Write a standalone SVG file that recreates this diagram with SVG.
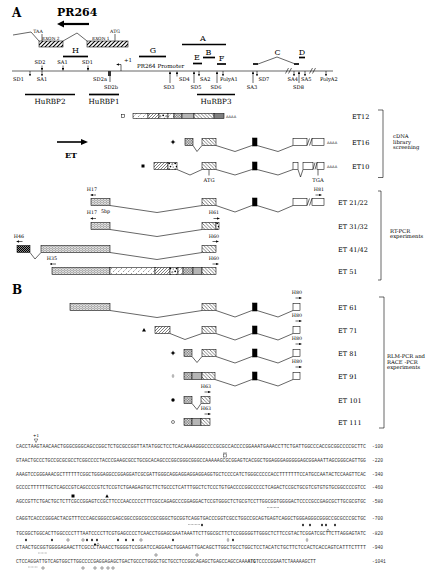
<svg xmlns="http://www.w3.org/2000/svg" width="443" height="573" viewBox="0 0 443 573">
<style>
.t{font-family:"DejaVu Serif","Liberation Serif",serif;fill:#000}
.bd{font-weight:bold}
.lab{font-size:8px}
.site{font-size:5.1px}
.et{font-size:6.5px}
.pr{font-size:4.8px}
.aaaa{font-size:3.6px;font-family:"DejaVu Sans",sans-serif}
.ln{stroke:#000;stroke-width:0.6;fill:none}
.bar{stroke:#000;stroke-width:1.7;fill:none}
.bx{stroke:#000;stroke-width:0.55}
.seq{font-family:"Liberation Mono",monospace;font-size:4.6px;fill:#333}
.mid{text-anchor:middle}
.end{text-anchor:end}
</style>
<defs>
<marker id="ah" viewBox="0 0 4 4" refX="4" refY="2" markerWidth="2.4" markerHeight="2.4" markerUnits="userSpaceOnUse" orient="auto"><path d="M0,0L4,2L0,4z" fill="#000"/></marker>
<pattern id="pFwd" width="3" height="3" patternUnits="userSpaceOnUse"><rect width="3" height="3" fill="#fff"/><path d="M-1,1L1,-1M0,3L3,0M2,4L4,2" stroke="#000" stroke-width="0.5"/></pattern>
<pattern id="pBack" width="3.5" height="3.5" patternUnits="userSpaceOnUse"><rect width="3.5" height="3.5" fill="#fff"/><path d="M0,0L3.5,3.5M-1,2.5L1,4.5M2.5,-1L4.5,1" stroke="#000" stroke-width="0.5"/></pattern>
<pattern id="pDense" width="1.6" height="1.6" patternUnits="userSpaceOnUse"><rect width="1.6" height="1.6" fill="#fff"/><path d="M0,0L1.6,1.6M-0.4,1.2L0.4,2M1.2,-0.4L2,0.4" stroke="#000" stroke-width="0.5"/></pattern>
<pattern id="pWave" width="3" height="2" patternUnits="userSpaceOnUse"><rect width="3" height="2" fill="#fff"/><path d="M0,1.6L0.75,0.4L1.5,1.6L2.25,0.4L3,1.6" stroke="#000" stroke-width="0.35" fill="none"/></pattern>
<pattern id="pDashL" width="5" height="5" patternUnits="userSpaceOnUse"><rect width="5" height="5" fill="#fff"/><path d="M0.5,4.5L2,3M3,2L4.5,0.5" stroke="#000" stroke-width="0.4"/></pattern>
<pattern id="pSpeck" width="6" height="6" patternUnits="userSpaceOnUse"><rect width="6" height="6" fill="#fff"/><circle cx="1.2" cy="1.3" r="0.9" fill="#000"/><circle cx="4.3" cy="2.2" r="0.7" fill="none" stroke="#000" stroke-width="0.4"/><circle cx="2.5" cy="4.6" r="0.8" fill="#000"/><circle cx="5.2" cy="5" r="0.5" fill="#000"/></pattern>
<pattern id="pCross" width="2" height="2" patternUnits="userSpaceOnUse"><rect width="2" height="2" fill="#fff"/><path d="M0,0L2,2M2,0L0,2" stroke="#000" stroke-width="0.5"/></pattern>
<pattern id="pCheck" width="2" height="2" patternUnits="userSpaceOnUse"><rect width="2" height="2" fill="#888"/><rect width="1" height="1" fill="#000"/><rect x="1" y="1" width="1" height="1" fill="#000"/></pattern>
<pattern id="pTop" width="4" height="4" patternUnits="userSpaceOnUse"><rect width="4" height="4" fill="#fff"/><path d="M-1,1L1,-1M0,4L4,0M3,5L5,3" stroke="#000" stroke-width="1.1"/></pattern>
<path id="fd" d="M0,-1.5L1.1,0L0,1.5L-1.1,0z" fill="#000"/>
<path id="od" d="M0,-1.6L1,0L0,1.6L-1,0z" fill="#fff" stroke="#000" stroke-width="0.35"/>
<circle id="oc" r="1.2" fill="#fff" stroke="#000" stroke-width="0.4"/>
<path id="star" d="M0,-2.5L0.8,-0.8L2.5,0L0.8,0.8L0,2.5L-0.8,0.8L-2.5,0L-0.8,-0.8z" fill="#000"/>
</defs>
<rect width="443" height="573" fill="#fff"/>

<g id="panelA-title">
<text class="t bd" x="12" y="17" font-size="12">A</text>
<text class="t bd" x="57" y="16" font-size="11">PR264</text>
<path d="M89,24H63" stroke="#000" stroke-width="2.2"/>
<path d="M57,24L64,20.5L64,27.5z" fill="#000"/>
</g>

<g id="pr264-gene">
<polyline class="ln" points="13,35 31,32 39,41"/>
<rect class="bx" x="39" y="41" width="24" height="6" fill="url(#pTop)"/>
<polyline class="ln" points="63,41 77,33 87,41"/>
<rect class="bx" x="87" y="41" width="41" height="6" fill="url(#pTop)"/>
<text class="t mid" x="38" y="32.5" font-size="4.6">TAA</text>
<line class="ln" x1="42" y1="34" x2="42" y2="41"/>
<text class="t" x="42" y="40" font-size="4.3">EXON 2</text>
<text class="t" x="92" y="40" font-size="4.3">EXON 1</text>
<text class="t mid" x="115" y="32.5" font-size="4.6">ATG</text>
<line class="ln" x1="115" y1="34" x2="115" y2="41"/>
</g>

<g id="genomic-map">
<line class="ln" x1="12" y1="71" x2="333" y2="71"/>
<path d="M285.5,73.5L288.5,68M288.5,73.5L291.5,68M309.5,73.5L312.5,68M312.5,73.5L315.5,68" stroke="#000" stroke-width="0.6"/>
<path class="ln" d="M121,71V64.5H116.5" marker-end="url(#ah)"/>
<text class="t" x="124" y="62" font-size="5.4">+1</text>
<text class="t" x="137" y="68" font-size="5.6">PR264 Promoter</text>
<line class="bar" x1="63" y1="56.5" x2="88" y2="56.5"/><text class="t lab mid" x="75.5" y="53">H</text>
<line class="bar" x1="139" y1="56.5" x2="166" y2="56.5"/><text class="t lab mid" x="153" y="53">G</text>
<line class="bar" x1="182" y1="44.5" x2="226" y2="44.5"/><text class="t lab mid" x="203" y="41">A</text>
<line class="bar" x1="203" y1="57.5" x2="215" y2="57.5"/><text class="t lab mid" x="208.5" y="54.5">B</text>
<line class="bar" x1="193" y1="63.5" x2="202" y2="63.5"/><text class="t lab mid" x="197" y="60">E</text>
<line class="bar" x1="217" y1="64" x2="226" y2="64"/><text class="t lab mid" x="221.5" y="60.5">F</text>
<line class="bar" x1="253" y1="64" x2="258" y2="64"/>
<polyline class="ln" points="258,64 277,57 294,63.5"/>
<line class="bar" x1="294" y1="64" x2="299" y2="64"/><text class="t lab mid" x="277.5" y="55">C</text>
<line class="bar" x1="299" y1="57.5" x2="305" y2="57.5"/><text class="t lab mid" x="302" y="54.5">D</text>
<text class="t site mid" x="40" y="64">SD2</text><line class="ln" x1="42" y1="65.5" x2="42" y2="70.5" marker-end="url(#ah)"/>
<text class="t site mid" x="62.5" y="64">SA1</text><line class="ln" x1="63" y1="65.5" x2="63" y2="70.5" marker-end="url(#ah)"/>
<text class="t site mid" x="87.5" y="64">SD1</text><line class="ln" x1="88" y1="65.5" x2="88" y2="70.5" marker-end="url(#ah)"/>
<line class="ln" x1="30" y1="71" x2="30" y2="76" marker-end="url(#ah)"/><text class="t site mid" x="18.5" y="80.5">SD1</text>
<line class="ln" x1="42" y1="71" x2="42" y2="76" marker-end="url(#ah)"/><text class="t site mid" x="42" y="80.5">SA1</text>
<text class="t site mid" x="100" y="80.5">SD2a</text>
<rect x="108" y="71" width="3" height="5" fill="#333"/>
<line class="ln" x1="110" y1="76" x2="110" y2="82"/>
<text class="t site mid" x="111" y="88.5">SD2b</text>
<line class="ln" x1="170" y1="83" x2="170" y2="71.5" marker-end="url(#ah)"/><text class="t site mid" x="169" y="88.5">SD3</text>
<line class="ln" x1="177" y1="76.5" x2="177" y2="71.5" marker-end="url(#ah)"/><text class="t site" x="179" y="80.5">SD4</text>
<line class="ln" x1="194" y1="83" x2="194" y2="71.5" marker-end="url(#ah)"/><text class="t site mid" x="196" y="88.5">SD5</text>
<line class="ln" x1="199" y1="71" x2="199" y2="76" marker-end="url(#ah)"/><text class="t site" x="200" y="80.5">SA2</text>
<line class="ln" x1="217" y1="83" x2="217" y2="71.5" marker-end="url(#ah)"/><text class="t site mid" x="216" y="88.5">SD6</text>
<line class="ln" x1="223" y1="71" x2="223" y2="76" marker-end="url(#ah)"/><text class="t site" x="220" y="80.5">PolyA1</text>
<line class="ln" x1="253" y1="83" x2="253" y2="71.5" marker-end="url(#ah)"/><text class="t site mid" x="252" y="88.5">SA3</text>
<line class="ln" x1="257" y1="71" x2="257" y2="76" marker-end="url(#ah)"/><text class="t site" x="258.5" y="80.5">SD7</text>
<line class="ln" x1="294" y1="71" x2="294" y2="76" marker-end="url(#ah)"/><text class="t site end" x="298" y="80.5">SA4</text>
<line class="ln" x1="299" y1="83" x2="299" y2="71.5" marker-end="url(#ah)"/><text class="t site mid" x="298.5" y="88.5">SD8</text>
<line class="ln" x1="305" y1="71" x2="305" y2="76" marker-end="url(#ah)"/><text class="t site" x="301" y="80.5">SA5</text>
<line class="ln" x1="326" y1="71" x2="326" y2="76" marker-end="url(#ah)"/><text class="t site" x="320" y="80.5">PolyA2</text>
<line class="bar" x1="25" y1="94.5" x2="75" y2="94.5"/><text class="t mid" x="50" y="104" font-size="7.2">HuRBP2</text>
<line class="bar" x1="89" y1="94.5" x2="119" y2="94.5"/><text class="t mid" x="104" y="104" font-size="7.2">HuRBP1</text>
<line class="bar" x1="197" y1="94.5" x2="235" y2="94.5"/><text class="t mid" x="216" y="104" font-size="7.2">HuRBP3</text>
</g>

<g id="et-arrow">
<path d="M57,142H82" stroke="#000" stroke-width="1.6"/>
<path d="M88,142L81,139L81,145z" fill="#000"/>
<text class="t bd" x="65" y="158" font-size="8">ET</text>
</g>

<g id="connectors">
<polyline class="ln" points="193,145.5 197,151.5 202,145.5"/>
<polyline class="ln" points="216,145.5 235,151.5 252,145.5"/>
<polyline class="ln" points="257,145.5 278,151.5 293,145.5"/>
<polyline class="ln" points="177,169.5 190,175 202,169.5"/>
<polyline class="ln" points="216,169.5 235,175 252,169.5"/>
<polyline class="ln" points="257,169.5 278,175 293,169.5"/>
<polyline class="ln" points="298,169.5 300.5,177 303,169.5"/>
<polyline class="ln" points="110,205.5 157,212.5 202,205.5"/>
<polyline class="ln" points="216,205.5 235,212 252,205.5"/>
<polyline class="ln" points="257,205.5 278,212 293,205.5"/>
<polyline class="ln" points="110,229.5 157,236.5 202,229.5"/>
<polyline class="ln" points="30,252.5 35,259 41,252.5"/>
<polyline class="ln" points="110,252.5 157,259.5 202,252.5"/>
<polyline class="ln" points="110,310.5 157,317.5 202,310.5"/>
<polyline class="ln" points="216,310.5 235,317 252,310.5"/>
<polyline class="ln" points="257,310.5 278,317 293,310.5"/>
<polyline class="ln" points="170,333.5 185,339.5 202,333.5"/>
<polyline class="ln" points="216,333.5 235,340 252,333.5"/>
<polyline class="ln" points="257,333.5 278,340 293,333.5"/>
<polyline class="ln" points="192,356.5 197,362.5 202,356.5"/>
<polyline class="ln" points="216,356.5 235,363 252,356.5"/>
<polyline class="ln" points="257,356.5 278,363 293,356.5"/>
<polyline class="ln" points="215,379.5 235,386 252,379.5"/>
<polyline class="ln" points="257,379.5 278,386 293,379.5"/>
<polyline class="ln" points="192,403.5 197,409.5 201,403.5"/>
</g>

<g id="ET12">
<rect x="121.5" y="114.3" width="3.2" height="3.2" fill="#fff" stroke="#000" stroke-width="0.5"/>
<rect class="bx" x="133" y="113.5" width="15" height="5" fill="url(#pDashL)"/>
<rect class="bx" x="148" y="113.5" width="11" height="5" fill="url(#pFwd)"/>
<rect class="bx" x="159" y="113.5" width="9" height="5" fill="url(#pSpeck)"/>
<rect class="bx" x="168" y="113.5" width="6" height="5" fill="url(#pDashL)"/>
<rect class="bx" x="174" y="113.5" width="8" height="5" fill="url(#pDense)"/>
<rect class="bx" x="182" y="113.5" width="12" height="5" fill="#b5b5b5"/>
<rect class="bx" x="194" y="113.5" width="20" height="5" fill="url(#pBack)"/>
<rect class="bx" x="214" y="113.5" width="10" height="5" fill="url(#pCross)"/>
<text class="aaaa" x="226" y="117.5">AAAA</text>
<text class="t et" x="352" y="118.5">ET12</text>
</g>

<g id="ET16">
<use href="#star" x="173" y="142"/>
<rect class="bx" x="185" y="138.5" width="8" height="7" fill="url(#pDense)"/>
<rect class="bx" x="202" y="138.5" width="14" height="7" fill="url(#pBack)"/>
<rect class="bx" x="252.5" y="138" width="4.5" height="8" fill="#000"/>
<rect class="bx" x="293" y="138.5" width="14" height="7" fill="#fff"/>
<rect class="bx" x="312" y="138.5" width="12" height="7" fill="#fff"/>
<path class="ln" d="M307,145.5L309.5,138.5M309.5,145.5L312,138.5"/>
<text class="aaaa" x="327" y="143.5">AAAA</text>
<text class="t et" x="352" y="144.5">ET16</text>
</g>

<g id="ET10">
<rect x="141.5" y="164.5" width="3" height="3" fill="#000"/>
<rect class="bx" x="154" y="162.5" width="14" height="7" fill="url(#pFwd)"/>
<rect class="bx" x="168" y="162.5" width="9" height="7" fill="url(#pSpeck)"/>
<rect class="bx" x="202" y="162.5" width="14" height="7" fill="url(#pBack)"/>
<line class="ln" x1="209" y1="169.5" x2="209" y2="175.5"/>
<text class="t mid" x="209" y="181.5" font-size="5.2">ATG</text>
<rect class="bx" x="252.5" y="162" width="4.5" height="8" fill="#000"/>
<rect class="bx" x="293" y="162.5" width="5" height="7" fill="#fff"/>
<rect class="bx" x="303" y="162.5" width="10" height="7" fill="#fff"/>
<rect class="bx" x="317" y="162.5" width="7" height="7" fill="#fff"/>
<path class="ln" d="M313,169.5L315,162.5M315,169.5L317,162.5"/>
<line class="ln" x1="318" y1="169.5" x2="318" y2="175.5"/>
<text class="t mid" x="318" y="181.5" font-size="5.2">TGA</text>
<text class="aaaa" x="327" y="167.5">AAAA</text>
<text class="t et" x="352" y="169">ET10</text>
</g>

<g id="bracket-cdna">
<path class="ln" d="M378,110H383V177.5H378"/>
<text class="t" x="393" y="138" font-size="5.3">cDNA</text>
<text class="t" x="393" y="143.5" font-size="5.3">library</text>
<text class="t" x="393" y="149" font-size="5.3">screening</text>
</g>

<g id="ET21-22">
<text class="t pr mid" x="92" y="191">H17</text>
<line class="ln" x1="96" y1="195" x2="90.5" y2="195" marker-end="url(#ah)"/>
<rect class="bx" x="91" y="198.5" width="19" height="7" fill="url(#pWave)"/>
<rect class="bx" x="202" y="198.5" width="14" height="7" fill="url(#pBack)"/>
<rect class="bx" x="252.5" y="198" width="4.5" height="8" fill="#000"/>
<rect class="bx" x="293" y="198.5" width="14" height="7" fill="#fff"/>
<rect class="bx" x="312" y="198.5" width="12" height="7" fill="#fff"/>
<path class="ln" d="M307,205.5L309.5,198.5M309.5,205.5L312,198.5"/>
<text class="t pr mid" x="319" y="191">H81</text>
<line class="ln" x1="315.5" y1="195" x2="321.5" y2="195" marker-end="url(#ah)"/>
<text class="t et" x="338" y="204.5">ET 21/22</text>
</g>

<g id="ET31-32">
<text class="t pr mid" x="92" y="214">H17</text>
<text class="t pr" x="101" y="213">5bp</text>
<line class="ln" x1="96" y1="218.5" x2="90.5" y2="218.5" marker-end="url(#ah)"/>
<rect class="bx" x="91" y="222.5" width="19" height="7" fill="url(#pWave)"/>
<rect class="bx" x="202" y="222.5" width="14" height="7" fill="url(#pBack)"/>
<rect class="bx" x="216" y="222.5" width="3" height="7" fill="url(#pSpeck)"/>
<text class="t pr mid" x="214" y="214">H61</text>
<line class="ln" x1="213.5" y1="218.5" x2="219.5" y2="218.5" marker-end="url(#ah)"/>
<text class="t et" x="338" y="228.5">ET 31/32</text>
</g>

<g id="ET41-42">
<text class="t pr mid" x="19" y="237.5">H46</text>
<line class="ln" x1="22.5" y1="241.5" x2="16.5" y2="241.5" marker-end="url(#ah)"/>
<rect class="bx" x="17" y="245.5" width="13" height="7" fill="url(#pCheck)"/>
<rect class="bx" x="41" y="245.5" width="69" height="7" fill="url(#pWave)"/>
<rect class="bx" x="202" y="245.5" width="14" height="7" fill="url(#pBack)"/>
<text class="t pr mid" x="214" y="237.5">H60</text>
<line class="ln" x1="212.5" y1="241.5" x2="218.5" y2="241.5" marker-end="url(#ah)"/>
<text class="t et" x="338" y="252">ET 41/42</text>
</g>

<g id="ET51">
<text class="t pr mid" x="52" y="260">H35</text>
<line class="ln" x1="56" y1="264" x2="50" y2="264" marker-end="url(#ah)"/>
<rect class="bx" x="52" y="267.5" width="58" height="7" fill="url(#pWave)"/>
<rect class="bx" x="110" y="267.5" width="45" height="7" fill="url(#pDashL)"/>
<rect class="bx" x="155" y="267.5" width="15" height="7" fill="url(#pFwd)"/>
<rect class="bx" x="170" y="267.5" width="8" height="7" fill="url(#pSpeck)"/>
<rect class="bx" x="178" y="267.5" width="5" height="7" fill="url(#pDashL)"/>
<rect class="bx" x="183" y="267.5" width="10" height="7" fill="url(#pDense)"/>
<rect class="bx" x="193" y="267.5" width="9" height="7" fill="#b5b5b5"/>
<rect class="bx" x="202" y="267.5" width="14" height="7" fill="url(#pBack)"/>
<text class="t pr mid" x="214" y="260">H60</text>
<line class="ln" x1="212.5" y1="264" x2="218.5" y2="264" marker-end="url(#ah)"/>
<text class="t et" x="338" y="274">ET 51</text>
</g>

<g id="bracket-rtpcr">
<path class="ln" d="M378,191H381V280H378"/>
<text class="t" x="390" y="232.5" font-size="5.3">RT-PCR</text>
<text class="t" x="390" y="238" font-size="5.3">experiments</text>
</g>

<g id="panelB-title">
<text class="t bd" x="12" y="294" font-size="12">B</text>
</g>

<g id="ET61">
<rect class="bx" x="70" y="303.5" width="40" height="7" fill="url(#pWave)"/>
<rect class="bx" x="202" y="303.5" width="14" height="7" fill="url(#pBack)"/>
<rect class="bx" x="252.5" y="303" width="4.5" height="8" fill="#000"/>
<rect class="bx" x="293" y="303.5" width="7" height="7" fill="#fff"/>
<text class="t pr mid" x="297" y="294">H80</text>
<line class="ln" x1="295.5" y1="298" x2="301.5" y2="298" marker-end="url(#ah)"/>
<text class="t et" x="338" y="309.5">ET 61</text>
</g>

<g id="ET71">
<path d="M144,328L146,331.5H142z" fill="#000"/>
<rect class="bx" x="155" y="326.5" width="15" height="7" fill="url(#pFwd)"/>
<rect class="bx" x="202" y="326.5" width="14" height="7" fill="url(#pBack)"/>
<rect class="bx" x="252.5" y="326" width="4.5" height="8" fill="#000"/>
<rect class="bx" x="293" y="326.5" width="7" height="7" fill="#fff"/>
<text class="t pr mid" x="297" y="317">H80</text>
<line class="ln" x1="295.5" y1="321" x2="301.5" y2="321" marker-end="url(#ah)"/>
<text class="t et" x="338" y="332.5">ET 71</text>
</g>

<g id="ET81">
<use href="#star" x="173" y="353"/>
<rect class="bx" x="184" y="349.5" width="8" height="7" fill="url(#pDense)"/>
<rect class="bx" x="202" y="349.5" width="14" height="7" fill="url(#pBack)"/>
<rect class="bx" x="252.5" y="349" width="4.5" height="8" fill="#000"/>
<rect class="bx" x="293" y="349.5" width="7" height="7" fill="#fff"/>
<text class="t pr mid" x="297" y="340">H80</text>
<line class="ln" x1="295.5" y1="344" x2="301.5" y2="344" marker-end="url(#ah)"/>
<text class="t et" x="338" y="355.5">ET 81</text>
</g>

<g id="ET91">
<use href="#od" x="173" y="376"/>
<rect class="bx" x="184" y="372.5" width="8" height="7" fill="url(#pDense)"/>
<rect class="bx" x="192" y="372.5" width="10" height="7" fill="#b5b5b5"/>
<rect class="bx" x="202" y="372.5" width="13" height="7" fill="url(#pBack)"/>
<rect class="bx" x="252.5" y="372" width="4.5" height="8" fill="#000"/>
<rect class="bx" x="293" y="372.5" width="7" height="7" fill="#fff"/>
<text class="t pr mid" x="297" y="363">H80</text>
<line class="ln" x1="295.5" y1="367" x2="301.5" y2="367" marker-end="url(#ah)"/>
<text class="t et" x="338" y="378.5">ET 91</text>
</g>

<g id="ET101">
<circle cx="173" cy="400" r="1.7" fill="#000"/>
<rect class="bx" x="184" y="396.5" width="8" height="7" fill="url(#pDense)"/>
<rect class="bx" x="201" y="396.5" width="9" height="7" fill="url(#pBack)"/>
<text class="t pr mid" x="206" y="388">H63</text>
<line class="ln" x1="204.5" y1="392" x2="210.5" y2="392" marker-end="url(#ah)"/>
<text class="t et" x="338" y="402.5">ET 101</text>
</g>

<g id="ET111">
<circle cx="173" cy="422" r="1.5" fill="#fff" stroke="#000" stroke-width="0.5"/>
<rect class="bx" x="184" y="418.5" width="8" height="7" fill="url(#pDense)"/>
<rect class="bx" x="192" y="418.5" width="9" height="7" fill="#b5b5b5"/>
<rect class="bx" x="201" y="418.5" width="9" height="7" fill="url(#pBack)"/>
<text class="t pr mid" x="206" y="410">H63</text>
<line class="ln" x1="204.5" y1="414" x2="210.5" y2="414" marker-end="url(#ah)"/>
<text class="t et" x="338" y="424.5">ET 111</text>
</g>

<g id="bracket-rlm">
<path class="ln" d="M379,297H384V428H379"/>
<text class="t" x="387" y="358" font-size="5.3">RLM-PCR and</text>
<text class="t" x="387" y="363.5" font-size="5.3">RACE -PCR</text>
<text class="t" x="387" y="369" font-size="5.3">experiments</text>
</g>

<g id="sequence">
<text class="t mid" x="36" y="437" font-size="4">+1</text>
<path d="M34.2,439L37.8,439L36,442.5z" fill="none" stroke="#000" stroke-width="0.4"/>
<text class="seq" x="16" y="448" textLength="350" lengthAdjust="spacingAndGlyphs">CACCTAAGTAACAACTGGGCGGGCAGCCGGCTCTGCGCCGGTTATATGGCTCCTCACAAAAGGGCCCCGCGCCACCCCGGAAATGAAACCTTCTGATTGGCCCACCGCGGCCCCGCTTC</text>
<text class="seq" x="372" y="448">-100</text>
<line x1="223" y1="453" x2="227" y2="453" stroke="#000" stroke-width="0.4"/>
<rect x="223.5" y="454" width="3" height="3" fill="none" stroke="#000" stroke-width="0.4"/>
<text class="seq" x="16" y="462" textLength="350" lengthAdjust="spacingAndGlyphs">GTAACTGCCCTGCCGCGCGCCTCGGCCCCTACCCGAAGCGCCTGCGCACAGCCCGGCGGGCGGGCCAAAAAGCGCGGAGTCACGGCTGGAGGGAGGGGGAGCGGAAATTAGCGGGCAGTTGG</text>
<text class="seq" x="372" y="462">-220</text>
<text class="seq" x="16" y="475.5" textLength="350" lengthAdjust="spacingAndGlyphs">AAAGTCCGGGAAACGCTTTTTTCGGCTGGGAGGCCGGAGGATCGCGATTGGGCAGGAGGAGGAGGAGGTGCTCCCCATCTGGGCCCCCACCTTTTTTTCCATGCCAATACTCCAAGTTCAC</text>
<text class="seq" x="372" y="475.5">-340</text>
<text class="seq" x="16" y="489" textLength="350" lengthAdjust="spacingAndGlyphs">GCCCCTTTTTTGCTCAGCCGTCAGCCCCGTCTCCGTCTGAAGAGTGCTTCTGCCCTCATTTGGCTCTCCCTGTGACCCCGGCCCCCTCAGACTCCGCTGCGTCGTGTGTGCGGCCCCGTCC</text>
<text class="seq" x="372" y="489">-460</text>
<rect x="71.5" y="494.5" width="3" height="3" fill="#000"/>
<path d="M107,494.3L108.7,497.5H105.3z" fill="#000"/>
<text class="seq" x="16" y="503" textLength="350" lengthAdjust="spacingAndGlyphs">AGCCGTTCTGACTGCTCTTCGCCGGAGTCCGCTTCCCAACCCCCTTTCGCCAGAGCCCGGAGGACTCCGTGGGCTCTGCGTCCTTGGCGGTGGGGACTCCCCGCCGAGCGCTTGCGCGTGC</text>
<text class="seq" x="372" y="503">-580</text>
<line x1="267" y1="507.5" x2="279" y2="507.5" stroke="#555" stroke-width="0.6" stroke-dasharray="0.8,0.6"/>
<text class="seq" x="16" y="519.5" textLength="350" lengthAdjust="spacingAndGlyphs">CAGGTCACCCGGGACTACGTTTCCCAGCGGGCCGAGCGGCCGGCGCCGCGGGCTGCGGTCAGGTGACCCGGTCGCCTGGCCGCAGTGAGTCAGGCTGGGAGGGCGGGCCGCGCCCGCTGC</text>
<text class="seq" x="372" y="519.5">-700</text>
<line x1="188" y1="524.5" x2="200" y2="524.5" stroke="#555" stroke-width="0.5" stroke-dasharray="0.8,0.6"/>
<use href="#fd" x="202" y="525"/><use href="#fd" x="303" y="525"/><use href="#fd" x="310" y="525"/><use href="#fd" x="322" y="525"/><use href="#fd" x="326" y="525"/><use href="#fd" x="335" y="525"/>
<use href="#od" x="328" y="530.5"/>
<text class="seq" x="16" y="534.5" textLength="350" lengthAdjust="spacingAndGlyphs">TGCGGCTGGCACTTGGCCCCTTTAATCCCCTTCGTGAGCCCCTCAACCTGGAGCGAATAAATTCTTGGCGCTTCTCCGGGGGTTGGGCTCTTCCGTACTCGGATCGCTTCTTAGGAGTATC</text>
<text class="seq" x="372" y="534.5">-820</text>
<use href="#fd" x="26" y="540"/><use href="#fd" x="52" y="540"/><use href="#oc" x="68" y="540"/><use href="#oc" x="83" y="540"/><use href="#fd" x="87" y="540"/><use href="#fd" x="92" y="540"/><use href="#fd" x="97" y="540"/><use href="#fd" x="118" y="540"/><use href="#fd" x="126" y="540"/><use href="#fd" x="133" y="540"/><use href="#oc" x="141" y="540"/><use href="#fd" x="173" y="540"/><use href="#od" x="228" y="540"/><use href="#fd" x="233" y="540"/><use href="#od" x="307" y="540"/>
<use href="#fd" x="95" y="544.5"/><use href="#od" x="98" y="544.5"/>
<text class="seq" x="16" y="549" textLength="350" lengthAdjust="spacingAndGlyphs">CTAACTGCGGTGGGGAGAACTTCGCCCTAAACCTGGGGTCCGGATCCAGGAACTGGAAGTTGACAGCTTGGCTGCCTGGCTCCTACATCTGCTTCTCCACTCACCAGTCATTTCTTTT</text>
<text class="seq" x="372" y="549">-940</text>
<line x1="38" y1="553" x2="47" y2="553" stroke="#555" stroke-width="0.5" stroke-dasharray="0.8,0.6"/>
<use href="#oc" x="156" y="555"/><use href="#oc" x="197" y="555"/>
<text class="seq" x="16" y="563" textLength="300" lengthAdjust="spacingAndGlyphs">CTCCAGGATTGTCAGTGGCTTGGCCCCGAGGAGAGCTGACTGCCCTGGGCTGCTGCCTCCGGCAGAGCTGAGCCAGCCAAA<tspan font-weight="bold">ATG</tspan>TCCCCGGAATCTAAAAAGCTT</text>
<text class="seq" x="372" y="563">-1041</text>
<line x1="28" y1="567" x2="38" y2="567" stroke="#555" stroke-width="0.5" stroke-dasharray="0.8,0.6"/>
<use href="#oc" x="43" y="568"/><use href="#oc" x="83" y="568"/><use href="#oc" x="95" y="568"/><use href="#oc" x="102" y="568"/><use href="#oc" x="108" y="568"/><use href="#oc" x="113" y="568"/>
</g>
</svg>
